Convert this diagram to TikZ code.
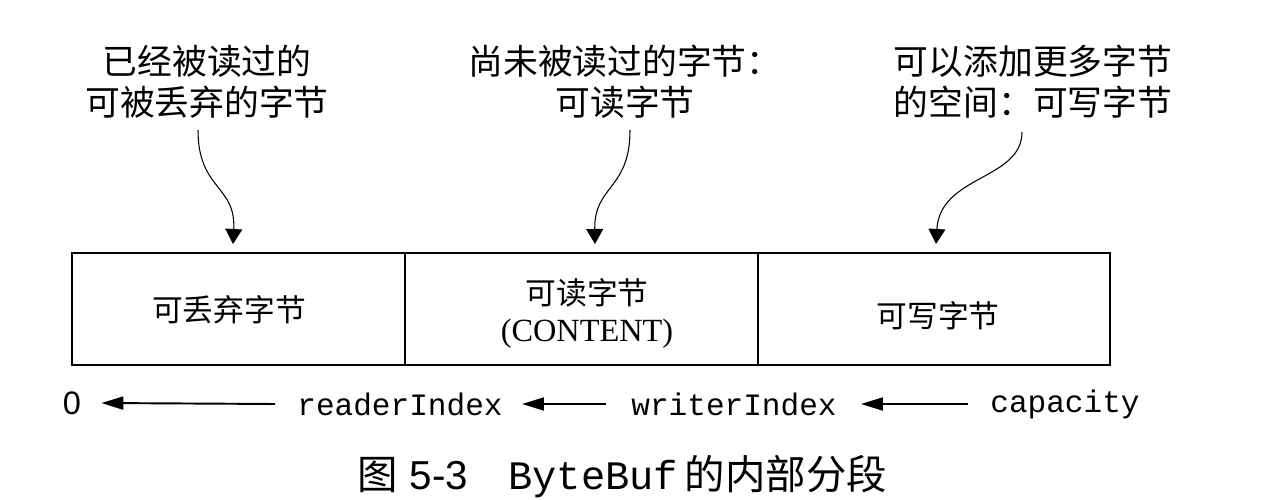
\documentclass[tikz,border=0pt]{standalone}
\usepackage{fontspec}
\setmainfont{Liberation Serif}
\setsansfont{Liberation Sans}
\setmonofont{Liberation Mono}
\newfontfamily\cjk{Noto Sans CJK SC}
\usetikzlibrary{positioning}
\usetikzlibrary{arrows.meta}
\tikzset{
  part/.style={draw, line width=1.1pt, minimum height=2.24cm, inner sep=0pt},
  note/.style={align=center, font=\cjk\fontsize{19.8}{23.3}\selectfont},
  curvy/.style={line width=0.6pt, -{Triangle[length=0.3cm,width=0.34cm]}},
  backarrow/.style={line width=1.1pt, -{Triangle[length=0.44cm,width=0.26cm]}},
  idx/.style={font=\ttfamily\fontsize{17.7}{20}\selectfont, inner sep=0pt}
}
\begin{document}
\begin{tikzpicture}[x=0.02cm, y=-0.02cm]
            \useasboundingbox (0,0) rectangle (1261,500);
            % the three parts of the buffer
            \node[part, minimum width=6.66cm] (discard) at (238.5,309) {};
            \node[part, minimum width=7.06cm] (read) at (581.5,309) {};
            \node[part, minimum width=7.04cm] (write) at (934,309) {};
            \node[font=\cjk\fontsize{17.5}{20}\selectfont] at (229,310) {可丢弃字节};
            \node[align=center, font=\fontsize{18.4}{21}\selectfont] at (587,313) {{\cjk\fontsize{17.5}{21}\selectfont 可读字节}\\(CONTENT)};
            \node[font=\cjk\fontsize{17.5}{20}\selectfont] at (938,316) {可写字节};
            % notes above, with the arrows
            \node[note] (n1) at (207,82) {已经被读过的\\可被丢弃的字节};
            \node[note] (n2) at (625,82) {尚未被读过的字节：\\可读字节};
            \node[note] (n3) at (1033,82) {可以添加更多字节\\的空间：可写字节};
            \coordinate (t1) at (233,244);
            \coordinate (t2) at (595,244);
            \coordinate (t3) at (936,244);
            \draw[curvy] (198,130) .. controls (198,190) and (236,185) .. (t1);
            \draw[curvy] (630,130) .. controls (630,190) and (594,185) .. (t2);
            \draw[curvy] (1022,132) .. controls (1022,180) and (940,175) .. (t3);
            % indices below
            \node[font=\sffamily\fontsize{18.5}{20}\selectfont, inner sep=0pt] (zero) at (72,403) {0};
            \node[idx] (ri) at (400,404) {readerIndex};
            \node[idx] (wi) at (734,404) {writerIndex};
            \node[idx] (cap) at (1065,404) {capacity};
            \draw[backarrow] ([xshift=-0.44cm]ri.west) -- ([xshift=0.4cm]zero.east);
            \draw[backarrow] ([xshift=-0.5cm]wi.west) -- ([xshift=0.38cm]ri.east);
            \draw[backarrow] ([xshift=-0.44cm]cap.west) -- ([xshift=0.48cm]wi.east);
            % caption
            \node[font=\fontsize{23}{26}\selectfont] (cap5) at (622,477) {{\cjk 图}\hspace{0.3em}{\sffamily 5-3}\quad{\ttfamily ByteBuf}\,{\cjk 的内部分段}};
        \end{tikzpicture}
\end{document}
